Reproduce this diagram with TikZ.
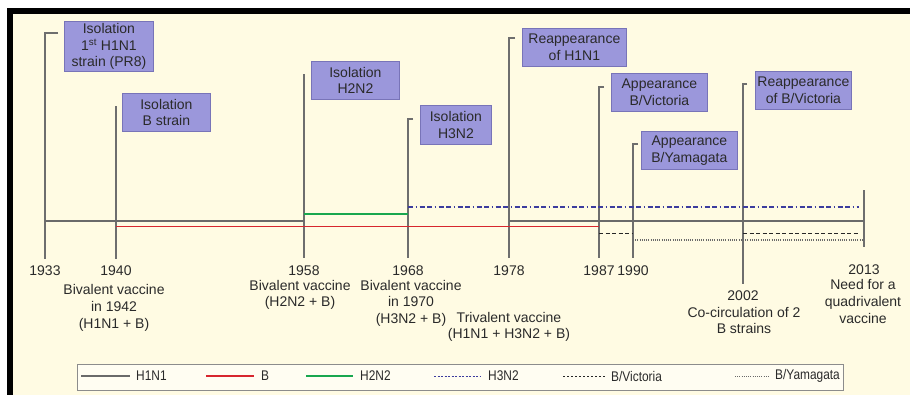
\documentclass[tikz,border=0pt]{standalone}
\usepackage{fontspec}
\setmainfont{Liberation Sans}
\newfontfamily\legendfont[FakeStretch=0.85]{Liberation Sans}
\usepackage{xcolor}
\definecolor{FLcream}{HTML}{FFFBE3}
\definecolor{FLtext}{HTML}{2A2A2A}
\definecolor{FLbox}{HTML}{9B97DB}
\definecolor{FLboxline}{HTML}{7874B8}
\definecolor{FLstem}{HTML}{6E6E6E}
\definecolor{FLgrey}{HTML}{6A6A6A}
\definecolor{FLred}{HTML}{D7262E}
\definecolor{FLgreen}{HTML}{19A74F}
\definecolor{FLblue}{HTML}{3C3C9E}
\definecolor{FLlegline}{HTML}{8C8C8C}
\usepackage{tikz}
\usetikzlibrary{positioning}

\begin{document}
\begin{tikzpicture}[
  x=1pt, y=-1pt,
  every node/.style={font=\fontsize{14}{16.7}\selectfont, text=FLtext},
  isobox/.style={
    draw=FLboxline, fill=FLbox, line width=0.8pt,
    align=center, inner sep=2pt, anchor=north west, minimum height=38pt
  },
  year/.style={inner sep=0pt},
  caption/.style={inner sep=0pt, align=center},
  stem/.style={draw=FLstem, line width=1.2pt, shorten >=7pt},
  h1n1/.style={draw=FLgrey, line width=1.5pt},
  bline/.style={draw=FLred, line width=1.5pt},
  h2n2/.style={draw=FLgreen, line width=1.5pt},
  h3n2/.style={draw=FLblue, line width=1.4pt,
    dash pattern=on 5pt off 2.5pt on 1.5pt off 2.5pt on 5pt off 2.5pt},
  bvic/.style={draw=black!85, line width=1.3pt, dash pattern=on 4pt off 2.5pt},
  byam/.style={draw=FLgrey, line width=1.2pt, dash pattern=on 1pt off 1.2pt},
  legtext/.style={font=\legendfont\fontsize{14}{16}\selectfont, inner sep=0pt, anchor=west},
]
\useasboundingbox (0,0) rectangle (910,394);

% Frame
\fill[white] (-2,-2) rectangle (912,396);
\fill[black] (7,8) rectangle (912,396);
\fill[FLcream] (13,14) rectangle (912,396);

% Years on the axis
\node[year] (y33) at (45,271) {1933};
\node[year] (y40) at (116,271) {1940};
\node[year] (y58) at (304,270.5) {1958};
\node[year] (y68) at (408,270.5) {1968};
\node[year] (y78) at (509,270.5) {1978};
\node[year] (y87) at (599,270.5) {1987};
\node[year] (y90) at (633,270.5) {1990};
\node[year] (y02) at (743,296) {2002};
\node[year] (y13) at (864,270) {2013};

% Captions under the years
\node[caption, below=8.3pt of y40, xshift=-2pt] (cap40) {Bivalent vaccine\\in 1942\\(H1N1 + B)};
\node[caption, below=4pt of y58, xshift=-4pt] (cap58) {Bivalent vaccine\\(H2N2 + B)};
\node[caption, below=4pt of y68, xshift=3pt] (cap68) {Bivalent vaccine\\in 1970\\(H3N2 + B)};
\node[caption, below=36pt of y78] (cap78) {Trivalent vaccine\\(H1N1 + H3N2 + B)};
\node[caption, below=5.5pt of y02, xshift=1pt] (cap02) {Co-circulation of 2\\B strains};
\node[caption, below=4.3pt of y13, xshift=-1pt] (cap13) {Need for a\\quadrivalent\\vaccine};

% Isolation / appearance boxes
\node[isobox, minimum width=89pt, minimum height=50pt] (iso33) at (64,21) {Isolation\\1\textsuperscript{st} H1N1\\strain (PR8)};
\node[isobox, minimum width=88pt] (iso40) at (122,93) {Isolation\\B strain};
\node[isobox, minimum width=88pt] (iso58) at (311,61) {Isolation\\H2N2};
\node[isobox, minimum width=71pt, minimum height=39pt] (iso68) at (420,105) {Isolation\\H3N2};
\node[isobox, minimum width=104pt] (re78) at (522,28) {Reappearance\\of H1N1};
\node[isobox, minimum width=96pt] (app87) at (611,73) {Appearance\\B/Victoria};
\node[isobox, minimum width=96pt] (app90) at (641,131) {Appearance\\B/Yamagata};
\node[isobox, minimum width=96pt] (re02) at (755,71) {Reappearance\\of B/Victoria};

% Tops of the stems
\coordinate (top33) at (y33 |- 0,33);
\coordinate (top40) at (y40 |- 0,106);
\coordinate (top58) at (y58 |- 0,74);
\coordinate (top68) at (y68 |- 0,119);
\coordinate (top78) at (y78 |- 0,38);
\coordinate (top87) at (y87 |- 0,87);
\coordinate (top90) at (y90 |- 0,144);
\coordinate (top02) at (y02 |- 0,84);
\coordinate (top13) at (y13 |- 0,190);
\coordinate (end13) at (y13 |- 0,247);

% Stems
\draw[stem] ([xshift=13pt]top33) -- (top33) -- (y33);
\draw[stem] (top40) -- (y40);
\draw[stem] (top58) -- (y58);
\draw[stem] ([xshift=5pt]top68) -- (top68) -- (y68);
\draw[stem] ([xshift=6pt]top78) -- (top78) -- (y78);
\draw[stem] ([xshift=5pt]top87) -- (top87) -- (y87);
\draw[stem] ([xshift=5pt]top90) -- (top90) -- (y90);
\draw[stem] ([xshift=4pt]top02) -- (top02) -- (y02);
\draw[stem, shorten >=0pt] (top13) -- (end13);

% Strain rows
\coordinate (rowH3) at (0,207);
\coordinate (rowH2) at (0,214);
\coordinate (rowH1) at (0,221);
\coordinate (rowB) at (0,226.7);
\coordinate (rowVic) at (0,233.5);
\coordinate (rowYam) at (0,240);

\draw[h1n1] (y33 |- rowH1) -- (y58 |- rowH1);
\draw[h1n1] (y78 |- rowH1) -- (y13 |- rowH1);
\draw[bline] (y40 |- rowB) -- (y87 |- rowB);
\draw[h2n2] (y58 |- rowH2) -- (y68 |- rowH2);
\draw[h3n2, shorten >=5pt] (y68 |- rowH3) -- (y13 |- rowH3);
\draw[bvic] (y87 |- rowVic) -- (y90 |- rowVic);
\draw[bvic, shorten >=5pt] (y02 |- rowVic) -- (y13 |- rowVic);
\draw[byam, shorten >=1pt] (y90 |- rowYam) -- (y13 |- rowYam);

% Legend
\node[draw=FLlegline, fill=white!55!FLcream, line width=1pt, anchor=north west,
  minimum width=766pt, minimum height=26pt, inner sep=0pt] (legend) at (77,363.5) {};
\node[legtext] (lgH1) at (136,376) {H1N1};
\node[legtext] (lgB) at (261,376) {B};
\node[legtext] (lgH2) at (360,376) {H2N2};
\node[legtext] (lgH3) at (488,376) {H3N2};
\node[legtext] (lgVic) at (611,376) {B/Victoria};
\node[legtext] (lgYam) at (775,376) {B/Yamagata};
\draw[h1n1] ([xshift=-55pt]lgH1.west) -- ([xshift=-6pt]lgH1.west);
\draw[bline] ([xshift=-55pt]lgB.west) -- ([xshift=-7pt]lgB.west);
\draw[h2n2] ([xshift=-54pt]lgH2.west) -- ([xshift=-7pt]lgH2.west);
\draw[h3n2, line width=1pt, dash pattern=on 2pt off 1.5pt] ([xshift=-54pt]lgH3.west) -- ([xshift=-8pt]lgH3.west);
\draw[bvic, line width=1pt, dash pattern=on 2pt off 2pt] ([xshift=-48pt]lgVic.west) -- ([xshift=-5pt]lgVic.west);
\draw[byam, line width=0.9pt] ([xshift=-40pt]lgYam.west) -- ([xshift=-5pt]lgYam.west);

\end{tikzpicture}
\end{document}
